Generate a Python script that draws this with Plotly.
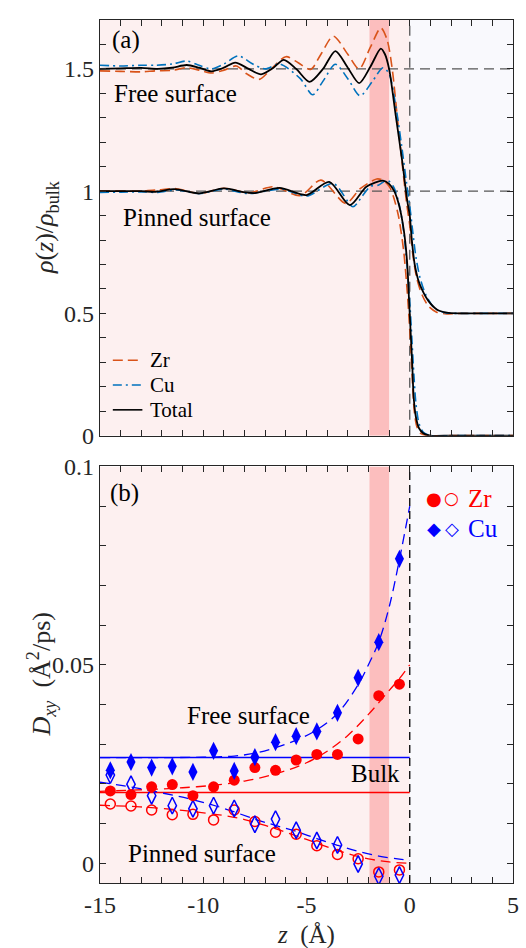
import plotly.graph_objects as go

# ---------------- DATA ----------------
# Panel (a): density profiles, free surface (offset +0.5) and pinned surface
z_free_tot = [-15, -14, -13, -12.2, -11.5, -10.8, -10.2, -9.6, -9.0, -8.45, -7.8, -7.2, -6.6, -6.1, -5.5,
              -4.85, -4.2, -3.6, -3.0, -2.45, -1.9, -1.4, -1.2, -1.0, -0.68, -0.36, -0.12, 0.0, 0.1, 0.24,
              0.4, 0.59, 0.91, 1.31, 1.79, 2.5, 3.5, 5]
rho_free_tot = [1.500, 1.502, 1.504, 1.500, 1.505, 1.516, 1.505, 1.490, 1.505, 1.526, 1.500, 1.478, 1.505,
                1.537, 1.500, 1.447, 1.500, 1.573, 1.505, 1.442, 1.510, 1.583, 1.560, 1.500, 1.310, 1.120,
                0.960, 0.900, 0.800, 0.700, 0.640, 0.598, 0.550, 0.516, 0.503, 0.500, 0.500, 0.500]

z_free_zr = [-15, -14, -13, -12.3, -11.5, -10.8, -10.2, -9.6, -9.0, -8.4, -7.9, -7.3, -6.7, -6.0, -5.4,
             -4.8, -4.3, -3.7, -3.0, -2.45, -1.9, -1.4, -1.1, -0.85, -0.6, -0.35, -0.15, 0.0, 0.15, 0.35,
             0.6, 0.9, 1.3, 1.8, 2.5, 3.5, 5]
rho_free_zr = [1.492, 1.490, 1.488, 1.492, 1.494, 1.505, 1.495, 1.483, 1.495, 1.512, 1.480, 1.457, 1.500,
               1.550, 1.525, 1.498, 1.560, 1.634, 1.560, 1.500, 1.590, 1.668, 1.620, 1.500, 1.300, 1.100,
               0.950, 0.860, 0.740, 0.640, 0.575, 0.530, 0.505, 0.498, 0.500, 0.500, 0.500]

z_free_cu = [-15, -14, -13, -12.3, -11.5, -10.8, -10.2, -9.6, -9.0, -8.3, -7.6, -7.0, -6.3, -5.3, -4.7,
             -4.2, -3.6, -3.0, -2.4, -1.8, -1.3, -1.0, -0.7, -0.4, -0.15, 0.0, 0.15, 0.3, 0.5, 0.8, 1.2,
             1.7, 2.5, 3.5, 5]
rho_free_cu = [1.515, 1.512, 1.515, 1.515, 1.520, 1.532, 1.515, 1.500, 1.520, 1.553, 1.520, 1.500, 1.520,
               1.460, 1.394, 1.450, 1.519, 1.460, 1.390, 1.450, 1.505, 1.480, 1.360, 1.190, 1.030, 0.940,
               0.830, 0.730, 0.645, 0.572, 0.522, 0.503, 0.500, 0.500, 0.500]

z_pin_tot = [-15, -14, -13, -12.3, -11.4, -10.2, -9.0, -8.0, -7.5, -6.3, -5.0, -3.9, -2.9, -2.1, -1.3,
             -1.0, -0.75, -0.52, -0.28, -0.12, -0.04, 0.04, 0.12, 0.19, 0.3, 0.45, 0.65, 1.0, 2.0, 3.5, 5]
rho_pin_tot = [1.000, 1.000, 1.000, 0.997, 1.008, 0.991, 1.011, 0.995, 0.992, 1.013, 0.984, 1.038, 0.943,
               1.018, 1.043, 1.030, 1.000, 0.943, 0.835, 0.700, 0.564, 0.428, 0.293, 0.157, 0.075, 0.030,
               0.010, 0.000, 0.000, 0.000, 0.000]

z_pin_zr = [-15, -14, -13, -12.2, -11.3, -10.2, -9.0, -7.8, -6.6, -5.3, -4.3, -3.1, -2.4, -1.6, -1.3,
            -1.0, -0.8, -0.55, -0.3, -0.15, -0.05, 0.05, 0.13, 0.22, 0.35, 0.55, 0.9, 2.0, 3.5, 5]
rho_pin_zr = [1.000, 1.000, 1.000, 1.005, 1.010, 0.990, 1.012, 0.993, 1.018, 0.982, 1.045, 0.950, 1.010,
              1.050, 1.045, 1.020, 0.980, 0.900, 0.760, 0.620, 0.500, 0.360, 0.220, 0.100, 0.035, 0.008,
              0.000, 0.000, 0.000, 0.000]

z_pin_cu = [-15, -14, -13, -12.2, -11.3, -10.2, -9.0, -7.8, -6.2, -5.0, -3.7, -2.75, -2.3, -1.9, -1.5,
            -1.1, -0.8, -0.55, -0.35, -0.2, -0.08, 0.02, 0.1, 0.2, 0.3, 0.45, 0.65, 1.0, 2.0, 3.5, 5]
rho_pin_cu = [0.995, 0.996, 0.997, 0.995, 1.005, 0.990, 1.008, 0.990, 1.008, 0.980, 1.031, 0.936, 0.980,
              1.020, 1.025, 1.045, 1.020, 0.960, 0.870, 0.760, 0.640, 0.520, 0.400, 0.250, 0.130, 0.050,
              0.015, 0.000, 0.000, 0.000, 0.000]

# Panel (b): in-plane diffusion coefficients
z_layers = [-14.5, -13.5, -12.5, -11.5, -10.5, -9.5, -8.5, -7.5, -6.5, -5.5, -4.5, -3.5, -2.5, -1.5, -0.5]
D_cu_free = [0.0234, 0.0255, 0.0241, 0.0244, 0.0230, 0.0283, 0.02325, 0.0267, 0.0305, 0.0320, 0.0332,
             0.0379, 0.0467, 0.0557, 0.0767]
D_zr_free = [0.0182, 0.0173, 0.01925, 0.0198, 0.0170, 0.01925, 0.0209, 0.0241, 0.0234, 0.0260, 0.0274,
             0.0274, 0.0313, 0.0422, 0.0451]
D_cu_pin = [0.0222, 0.0199, 0.0170, 0.0145, 0.0137, 0.0145, 0.0138, 0.0098, 0.0111, 0.0083, 0.0057,
            0.0046, -0.0002, -0.0033, -0.0030]
D_zr_pin = [0.0149, 0.0144, 0.0134, 0.0122, 0.0123, 0.0109, 0.0134, 0.0105, 0.0078, 0.0073, 0.0044,
            0.0022, 0.0011, -0.0022, -0.0017]

z_bulk = [-15, 0]
D_cu_bulk = 0.0266
D_zr_bulk = 0.0178

z_fit_cu_free = [-15, -10, -8.5, -7.5, -6.5, -5.5, -4.5, -3.5, -2.5, -2.0, -1.5, -1.0, -0.5, 0]
fit_cu_free = [0.0266, 0.0267, 0.0270, 0.0277, 0.0291, 0.0310, 0.0336, 0.0377, 0.0450, 0.0500, 0.0558,
               0.0645, 0.0765, 0.0900]
z_fit_zr_free = [-15, -13, -11, -9, -8, -7, -6, -5, -4, -3, -2, -1, -0.5, 0]
fit_zr_free = [0.0181, 0.0185, 0.0190, 0.0199, 0.0207, 0.0218, 0.0233, 0.0253, 0.0282, 0.0322, 0.0375,
               0.0435, 0.0465, 0.0500]
z_fit_cu_pin = [-15, -13.5, -12, -10.5, -9, -7.5, -6.5, -5.5, -4.5, -3.5, -2.5, -1.5, -0.5, 0]
fit_cu_pin = [0.0204, 0.0192, 0.0177, 0.0160, 0.0138, 0.0111, 0.0095, 0.0080, 0.0062, 0.0045, 0.0030,
              0.0018, 0.0010, 0.0007]
z_fit_zr_pin = [-15, -13.5, -12, -10.5, -9, -8, -7, -6, -5, -4, -3, -2, -1, 0]
fit_zr_pin = [0.0146, 0.0143, 0.0138, 0.0130, 0.0120, 0.0110, 0.0095, 0.0078, 0.0060, 0.0041, 0.0024,
              0.0011, 0.0003, 0.0000]

x_tickvals = [-15, -10, -5, 0, 5]
x_ticktext = ["-15", "-10", "-5", "0", "5"]
ya_tickvals = [0, 0.5, 1, 1.5]
ya_ticktext = ["0", "0.5", "1", "1.5"]
yb_tickvals = [0, 0.05, 0.1]
yb_ticktext = ["0", "0.05", "0.1"]

z_range = [-15, 5]
surface_z = 0
band = [-1.95, -1.0]
ya_range = [0, 1.7]
yb_range = [-0.005, 0.1]
ref_levels = [1.5, 1.0]

# ---------------- STYLE ----------------
FONT = "Liberation Serif"
AX = "#262626"
C_ZR = "#D95319"
C_CU = "#0072BD"
RED = "#FF0000"
BLUE = "#0000FF"
PINK = "rgb(253,240,240)"
LAV = "rgb(249,249,253)"
BAND = "rgb(252,190,190)"

W, H = 526, 948
ML, MR, MT, MB = 100, 7, 13, 65
PW, PH = W - ML - MR, H - MT - MB


def P(px, py):
    return (px - ML) / PW, (H - MB - py) / PH


fig = go.Figure()

# panel (a) traces
for z, r, col, dash, w in [
    (z_free_zr, rho_free_zr, C_ZR, "10px,5px", 1.6),
    (z_pin_zr, rho_pin_zr, C_ZR, "10px,5px", 1.6),
    (z_free_cu, rho_free_cu, C_CU, "9px,4px,2px,4px", 1.6),
    (z_pin_cu, rho_pin_cu, C_CU, "9px,4px,2px,4px", 1.6),
    (z_free_tot, rho_free_tot, "black", "solid", 1.8),
    (z_pin_tot, rho_pin_tot, "black", "solid", 1.8),
]:
    fig.add_trace(go.Scatter(x=z, y=r, mode="lines", xaxis="x", yaxis="y",
                             line=dict(color=col, dash=dash, width=w, shape="spline", smoothing=0.8),
                             showlegend=False, hoverinfo="skip"))

# panel (b) traces
fig.add_trace(go.Scatter(x=z_bulk, y=[D_cu_bulk] * len(z_bulk), mode="lines", xaxis="x2", yaxis="y2",
                         line=dict(color=BLUE, width=1.5), showlegend=False))
fig.add_trace(go.Scatter(x=z_bulk, y=[D_zr_bulk] * len(z_bulk), mode="lines", xaxis="x2", yaxis="y2",
                         line=dict(color=RED, width=1.5), showlegend=False))
for z, d, col in [(z_fit_cu_free, fit_cu_free, BLUE), (z_fit_zr_free, fit_zr_free, RED),
                  (z_fit_cu_pin, fit_cu_pin, BLUE), (z_fit_zr_pin, fit_zr_pin, RED)]:
    fig.add_trace(go.Scatter(x=z, y=d, mode="lines", xaxis="x2", yaxis="y2",
                             line=dict(color=col, width=1.3, dash="10px,6px", shape="spline"),
                             showlegend=False))
fig.add_trace(go.Scatter(x=z_layers, y=D_zr_pin, mode="markers", xaxis="x2", yaxis="y2",
                         marker=dict(symbol="circle-open", size=10, color=RED, line=dict(width=1.5)),
                         showlegend=False))
fig.add_trace(go.Scatter(x=z_layers, y=D_cu_pin, mode="markers", xaxis="x2", yaxis="y2",
                         marker=dict(symbol="diamond-tall-open", size=12, color=BLUE, line=dict(width=1.5)),
                         showlegend=False))
fig.add_trace(go.Scatter(x=z_layers, y=D_zr_free, mode="markers", xaxis="x2", yaxis="y2",
                         marker=dict(symbol="circle", size=11, color=RED, line=dict(width=0)),
                         showlegend=False))
fig.add_trace(go.Scatter(x=z_layers, y=D_cu_free, mode="markers", xaxis="x2", yaxis="y2",
                         marker=dict(symbol="diamond-tall", size=13, color=BLUE, line=dict(width=0)),
                         showlegend=False))

# ---------------- shapes ----------------
shapes = []
for xr, yr, yrange in [("x", "y", ya_range), ("x2", "y2", yb_range)]:
    shapes.append(dict(type="rect", xref=xr, yref=yr, x0=z_range[0], x1=surface_z, y0=yrange[0], y1=yrange[1],
                       fillcolor=PINK, line=dict(width=0), layer="below"))
    shapes.append(dict(type="rect", xref=xr, yref=yr, x0=surface_z, x1=z_range[1], y0=yrange[0], y1=yrange[1],
                       fillcolor=LAV, line=dict(width=0), layer="below"))
    shapes.append(dict(type="rect", xref=xr, yref=yr, x0=band[0], x1=band[1], y0=yrange[0], y1=yrange[1],
                       fillcolor=BAND, line=dict(width=0), layer="below"))
for lv in ref_levels:
    shapes.append(dict(type="line", xref="x", yref="y", x0=z_range[0], x1=z_range[1], y0=lv, y1=lv,
                       line=dict(color="#555555", width=1.3, dash="10px,6px"), layer="below"))
shapes.append(dict(type="line", xref="x", yref="y", x0=surface_z, x1=surface_z, y0=ya_range[0], y1=ya_range[1],
                   line=dict(color="#555555", width=1.3, dash="10px,6px"), layer="below"))
shapes.append(dict(type="line", xref="x2", yref="y2", x0=surface_z, x1=surface_z, y0=yb_range[0], y1=yb_range[1],
                   line=dict(color="black", width=1.3, dash="8px,5px"), layer="above"))

# legend for panel (a), drawn with shapes + text
leg_items = [("Zr", C_ZR, "10px,5px", 356), ("Cu", C_CU, "9px,4px,2px,4px", 381), ("Total", "black", "solid", 406)]
annotations = []
for name, col, dash, py in leg_items:
    x0, y0 = P(113, py)
    x1, _ = P(143, py)
    shapes.append(dict(type="line", xref="paper", yref="paper", x0=x0, x1=x1, y0=y0, y1=y0,
                       line=dict(color=col, width=1.6, dash=dash)))
    tx, ty = P(149, py)
    annotations.append(dict(x=tx, y=ty, xref="paper", yref="paper", text=name, showarrow=False,
                            xanchor="left", yanchor="middle", font=dict(family=FONT, size=21, color="black")))


def txt(px, py, s, size=25, color="black", xanchor="center", angle=0, family=FONT):
    x, y = P(px, py)
    annotations.append(dict(x=x, y=y, xref="paper", yref="paper", text=s, showarrow=False, xanchor=xanchor,
                            yanchor="middle", textangle=angle, font=dict(family=family, size=size, color=color)))


txt(126, 33, "(a)")
txt(177, 87, "Free surface")
txt(198, 212, "Pinned surface")
txt(125, 490, "(b)")
txt(251, 714, "Free surface")
txt(380, 773, "Bulk")
txt(203, 853, "Pinned surface")
# legend panel (b)
txt(439, 495, "●", size=18, color=RED, family="DejaVu Sans")
txt(457, 495, "○", size=17, color=RED, family="DejaVu Sans")
txt(471, 495, "Zr", size=25, color=RED, xanchor="left")
txt(439, 526, "◆", size=18, color=BLUE, family="DejaVu Sans")
txt(457, 526, "◇", size=18, color=BLUE, family="DejaVu Sans")
txt(471, 526, "Cu", size=25, color=BLUE, xanchor="left")
# axis titles
txt(46, 222, "<i>ρ</i>(<i>z</i>)/<i>ρ</i><sub>bulk</sub>", size=26, color=AX, angle=-90)
txt(40, 673, "<i>D</i><sub><i>xy</i></sub>  (Å<sup>2</sup>/ps)", size=26, color=AX, angle=-90)
txt(309, 935, "<i>z</i>  (Å)", size=25, color=AX)

axis_common = dict(showline=True, linecolor=AX, linewidth=1.2, mirror="allticks", ticks="inside", ticklen=6,
                   tickwidth=1, tickcolor=AX, showgrid=False, zeroline=False,
                   tickfont=dict(family=FONT, size=24, color=AX), tickmode="array")

ya_top = (H - MB - 432) / PH
yb_top = (H - MB - 463) / PH

fig.update_layout(
    width=W, height=H, margin=dict(l=ML, r=MR, t=MT, b=MB),
    paper_bgcolor="white", plot_bgcolor="white", showlegend=False,
    xaxis=dict(domain=[0, 1], anchor="y", range=z_range, tickvals=x_tickvals, ticktext=x_ticktext,
               showticklabels=False,
               minor=dict(tickmode="array", tickvals=list(range(-15, 6)), ticks="inside", ticklen=6,
                          tickcolor=AX), **axis_common),
    yaxis=dict(domain=[ya_top, 1], anchor="x", range=ya_range, tickvals=ya_tickvals, ticktext=ya_ticktext,
               minor=dict(tickmode="array", tickvals=[i / 10 for i in range(0, 18)], ticks="inside", ticklen=6,
                          tickcolor=AX), **axis_common),
    xaxis2=dict(domain=[0, 1], anchor="y2", range=z_range, tickvals=x_tickvals, ticktext=x_ticktext,
                minor=dict(tickmode="array", tickvals=list(range(-15, 6)), ticks="inside", ticklen=6,
                           tickcolor=AX), **axis_common),
    yaxis2=dict(domain=[0, yb_top], anchor="x2", range=yb_range, tickvals=yb_tickvals, ticktext=yb_ticktext,
                minor=dict(tickmode="array", tickvals=[i / 100 for i in range(0, 11)], ticks="inside", ticklen=6,
                           tickcolor=AX), **axis_common),
    shapes=shapes, annotations=annotations,
)

fig.write_html("out.html", config={"displayModeBar": False},
               post_script="document.body.style.margin='0px';document.body.style.overflow='hidden';")
